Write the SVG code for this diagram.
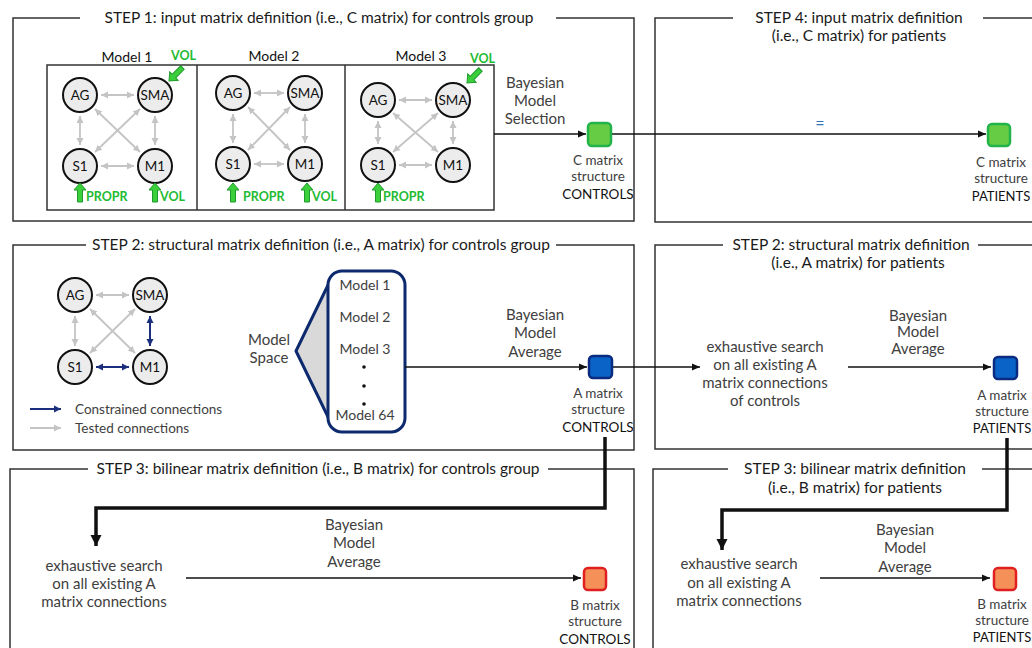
<svg xmlns="http://www.w3.org/2000/svg" width="1032" height="648" viewBox="0 0 1032 648">
<style>
text{font-family:Lato,"Liberation Sans",sans-serif}
.frame{fill:none;stroke:#333;stroke-width:1.5}
.title{font-size:15.5px;fill:#1a1a1a;text-anchor:middle}
.body{font-size:15px;fill:#404040;text-anchor:middle}
.small{font-size:13.5px;fill:#404040;text-anchor:middle}
.grp{font-size:13.5px;fill:#111;text-anchor:middle}
.node circle{fill:#ececec;stroke:#111;stroke-width:2}
.node text{font-size:13.5px;fill:#111;text-anchor:middle}
.gray{stroke:#c4c4c4;stroke-width:1.8;fill:none;marker-start:url(#ag);marker-end:url(#ag)}
.blue{stroke:#1c2f7e;stroke-width:2;fill:none;marker-start:url(#ab);marker-end:url(#ab)}
.thin{stroke:#111;stroke-width:1.5;fill:none;marker-end:url(#ak)}
.thick{stroke:#111;stroke-width:3.5;fill:none;marker-end:url(#akt)}
.garrow{fill:#3ccf3c;stroke:#1f9a2c;stroke-width:1}
.glab{font-size:12.5px;font-weight:bold;fill:#22bb33}
.mlab{font-size:14px;fill:#111;text-anchor:middle}
</style>
<defs>
<marker id="ag" markerUnits="userSpaceOnUse" markerWidth="8" markerHeight="8" refX="7" refY="4" orient="auto-start-reverse"><path d="M0,0.5 L7,4 L0,7.5 Z" fill="#c4c4c4"/></marker>
<marker id="ab" markerUnits="userSpaceOnUse" markerWidth="8" markerHeight="8" refX="7" refY="4" orient="auto-start-reverse"><path d="M0,0.5 L7,4 L0,7.5 Z" fill="#1c2f7e"/></marker>
<marker id="ak" markerUnits="userSpaceOnUse" markerWidth="9" markerHeight="8" refX="8" refY="4" orient="auto"><path d="M0,0.5 L8,4 L0,7.5 Z" fill="#111"/></marker>
<marker id="akt" markerUnits="userSpaceOnUse" markerWidth="12" markerHeight="12" refX="11" refY="6" orient="auto"><path d="M0,0.5 L11,6 L0,11.5 Z" fill="#111"/></marker>
<path id="upArrow" d="M0,0 L6,7 L2.5,7 L2.5,19 L-2.5,19 L-2.5,7 L-6,7 Z"/>
</defs>

<!-- Frames -->
<g id="frames">
<path class="frame" d="M80,18 H13 V221 H634 V18 H556"/>
<path class="frame" d="M733,18 H655 V222 H1040 M983,18 H1040"/>
<path class="frame" d="M86,245 H13 V450 H634 V245 H556"/>
<path class="frame" d="M723,245 H655 V449 H1040 M978,245 H1040"/>
<path class="frame" d="M88,469 H10 V660 M548,469 H634 V660"/>
<path class="frame" d="M728,469 H653 V660 M982,469 H1040"/>
</g>

<g id="titles">
<text class="title" x="319" y="23">STEP 1: input matrix definition (i.e., C matrix) for controls group</text>
<text class="title" x="859" y="23">STEP 4: input matrix definition</text>
<text class="title" x="859" y="41">(i.e., C matrix) for patients</text>
<text class="title" x="321" y="250">STEP 2: structural matrix definition (i.e., A matrix) for controls group</text>
<text class="title" x="851" y="250">STEP 2: structural matrix definition</text>
<text class="title" x="858" y="268">(i.e., A matrix) for patients</text>
<text class="title" x="318" y="474">STEP 3: bilinear matrix definition (i.e., B matrix) for controls group</text>
<text class="title" x="855" y="474">STEP 3: bilinear matrix definition</text>
<text class="title" x="855" y="493">(i.e., B matrix) for patients</text>
</g>

<!-- Model box -->
<g id="model-box">
<rect x="47" y="65" width="447" height="145" fill="none" stroke="#333" stroke-width="1.5"/>
<line x1="197" y1="65" x2="197" y2="210" stroke="#333" stroke-width="1.5"/>
<line x1="345" y1="65" x2="345" y2="210" stroke="#333" stroke-width="1.5"/>
<text class="mlab" x="127" y="62">Model 1</text>
<text class="mlab" x="274" y="61">Model 2</text>
<text class="mlab" x="421" y="61">Model 3</text>
</g>

<!-- Model 1 graph -->
<g id="model1" transform="translate(80,95)">
<g class="edges">
<line class="gray" x1="21" y1="0" x2="54" y2="0"/>
<line class="gray" x1="21" y1="71" x2="54" y2="71"/>
<line class="gray" x1="0" y1="21" x2="0" y2="50"/>
<line class="gray" x1="75" y1="21" x2="75" y2="50"/>
<line class="gray" x1="15" y1="14" x2="60" y2="57"/>
<line class="gray" x1="60" y1="14" x2="15" y2="57"/>
</g>
<g id="m1-AG" class="node"><circle cx="0" cy="0" r="17"/><text x="0" y="5">AG</text></g>
<g id="m1-SMA" class="node"><circle cx="75" cy="0" r="17"/><text x="75" y="5">SMA</text></g>
<g id="m1-S1" class="node"><circle cx="0" cy="71" r="17"/><text x="0" y="76">S1</text></g>
<g id="m1-M1" class="node"><circle cx="75" cy="71" r="17"/><text x="75" y="76">M1</text></g>
</g>

<!-- Model 2 graph -->
<g id="model2" transform="translate(233,93)">
<g class="edges">
<line class="gray" x1="21" y1="0" x2="51" y2="0"/>
<line class="gray" x1="21" y1="71" x2="51" y2="71"/>
<line class="gray" x1="0" y1="21" x2="0" y2="50"/>
<line class="gray" x1="72" y1="21" x2="72" y2="50"/>
<line class="gray" x1="15" y1="14" x2="57" y2="57"/>
<line class="gray" x1="57" y1="14" x2="15" y2="57"/>
</g>
<g id="m2-AG" class="node"><circle cx="0" cy="0" r="17"/><text x="0" y="5">AG</text></g>
<g id="m2-SMA" class="node"><circle cx="72" cy="0" r="17"/><text x="72" y="5">SMA</text></g>
<g id="m2-S1" class="node"><circle cx="0" cy="71" r="17"/><text x="0" y="76">S1</text></g>
<g id="m2-M1" class="node"><circle cx="72" cy="71" r="17"/><text x="72" y="76">M1</text></g>
</g>

<!-- Model 3 graph -->
<g id="model3" transform="translate(378,100)">
<g class="edges">
<line class="gray" x1="21" y1="0" x2="54" y2="0"/>
<line class="gray" x1="21" y1="65" x2="54" y2="65"/>
<line class="gray" x1="0" y1="21" x2="0" y2="44"/>
<line class="gray" x1="75" y1="21" x2="75" y2="44"/>
<line class="gray" x1="15" y1="13" x2="60" y2="52"/>
<line class="gray" x1="60" y1="13" x2="15" y2="52"/>
</g>
<g id="m3-AG" class="node"><circle cx="0" cy="0" r="17"/><text x="0" y="5">AG</text></g>
<g id="m3-SMA" class="node"><circle cx="75" cy="0" r="17"/><text x="75" y="5">SMA</text></g>
<g id="m3-S1" class="node"><circle cx="0" cy="65" r="17"/><text x="0" y="70">S1</text></g>
<g id="m3-M1" class="node"><circle cx="75" cy="65" r="17"/><text x="75" y="70">M1</text></g>
</g>

<!-- Inputs (green arrows) -->
<g id="inputs">
<use href="#upArrow" class="garrow" transform="translate(80,183)"/>
<text class="glab" x="86" y="201">PROPR</text>
<use href="#upArrow" class="garrow" transform="translate(155,183)"/>
<text class="glab" x="160" y="201">VOL</text>
<use href="#upArrow" class="garrow" transform="translate(169,81) rotate(-135)"/>
<text class="glab" x="171" y="60">VOL</text>
<use href="#upArrow" class="garrow" transform="translate(233,183)"/>
<text class="glab" x="243" y="201">PROPR</text>
<use href="#upArrow" class="garrow" transform="translate(307,183)"/>
<text class="glab" x="312" y="201">VOL</text>
<use href="#upArrow" class="garrow" transform="translate(467,83) rotate(-135)"/>
<text class="glab" x="470" y="63">VOL</text>
<use href="#upArrow" class="garrow" transform="translate(378,183)"/>
<text class="glab" x="383" y="201">PROPR</text>
</g>

<!-- Step 2 graph -->
<g id="step2graph" transform="translate(75,295)">
<g class="edges">
<line class="gray" x1="21" y1="0" x2="54" y2="0"/>
<line class="blue" x1="21" y1="72" x2="54" y2="72"/>
<line class="gray" x1="0" y1="21" x2="0" y2="51"/>
<line class="blue" x1="75" y1="21" x2="75" y2="51"/>
<line class="gray" x1="15" y1="14" x2="60" y2="58"/>
<line class="gray" x1="60" y1="14" x2="15" y2="58"/>
</g>
<g id="s2-AG" class="node"><circle cx="0" cy="0" r="17"/><text x="0" y="5">AG</text></g>
<g id="s2-SMA" class="node"><circle cx="75" cy="0" r="17"/><text x="75" y="5">SMA</text></g>
<g id="s2-S1" class="node"><circle cx="0" cy="72" r="17"/><text x="0" y="77">S1</text></g>
<g id="s2-M1" class="node"><circle cx="75" cy="72" r="17"/><text x="75" y="77">M1</text></g>
</g>

<g id="legend">
<line x1="30" y1="409" x2="61" y2="409" stroke="#1c2f7e" stroke-width="2" marker-end="url(#ab)"/>
<text x="75" y="414" style="font-size:13.5px;fill:#404040">Constrained connections</text>
<line x1="30" y1="428" x2="61" y2="428" stroke="#c4c4c4" stroke-width="2" marker-end="url(#ag)"/>
<text x="75" y="433" style="font-size:13.5px;fill:#404040">Tested connections</text>
</g>

<!-- Model space -->
<g id="model-space">
<polygon points="296,351 330,281 330,421" fill="#d9d9d9" stroke="#0d2a6e" stroke-width="3" stroke-linejoin="round"/>
<rect x="328" y="271" width="77" height="161" rx="14" fill="#fff" stroke="#0d2a6e" stroke-width="3"/>
<text class="body" x="269" y="345">Model</text>
<text class="body" x="269" y="363">Space</text>
<text class="small" x="365" y="290" style="font-size:14px">Model 1</text>
<text class="small" x="365" y="322" style="font-size:14px">Model 2</text>
<text class="small" x="365" y="354" style="font-size:14px">Model 3</text>
<circle cx="364" cy="367" r="1.8" fill="#111"/>
<circle cx="364" cy="386" r="1.8" fill="#111"/>
<circle cx="364" cy="404" r="1.8" fill="#111"/>
<text class="small" x="365" y="420" style="font-size:14px">Model 64</text>
</g>

<!-- Connectors -->
<g id="connectors">
<line class="thin" x1="494" y1="134" x2="586" y2="134"/>
<line class="thin" x1="611" y1="134" x2="986" y2="134"/>
<line class="thin" x1="405" y1="367" x2="587" y2="367"/>
<line class="thin" x1="612" y1="367" x2="700" y2="367"/>
<line class="thin" x1="848" y1="367" x2="991" y2="367"/>
<line class="thin" x1="186" y1="578" x2="581" y2="578"/>
<line class="thin" x1="820" y1="578" x2="990" y2="578"/>
<path class="thick" d="M605,437 V508 H96 V546"/>
<path class="thick" d="M1007,438 V510 H722 V550"/>
</g>

<!-- Step 1 texts -->
<g id="bms">
<text class="body" x="535" y="88">Bayesian</text>
<text class="body" x="535" y="106">Model</text>
<text class="body" x="535" y="124">Selection</text>
</g>
<text x="820" y="129" style="font-size:16px;fill:#2e75b6;text-anchor:middle">=</text>

<g id="c-controls">
<rect x="588" y="123" width="23" height="23" rx="4" fill="#66cc44" stroke="#22b34a" stroke-width="2.5"/>
<text class="small" x="598" y="165">C matrix</text>
<text class="small" x="598" y="181">structure</text>
<text class="grp" x="598" y="199">CONTROLS</text>
</g>
<g id="c-patients">
<rect x="988" y="124" width="22" height="22" rx="4" fill="#66cc44" stroke="#22b34a" stroke-width="2.5"/>
<text class="small" x="1001" y="167">C matrix</text>
<text class="small" x="1001" y="183">structure</text>
<text class="grp" x="1001" y="201" style="font-size:13px">PATIENTS</text>
</g>

<g id="bma-a-controls">
<text class="body" x="535" y="320">Bayesian</text>
<text class="body" x="535" y="338">Model</text>
<text class="body" x="535" y="357">Average</text>
</g>
<g id="a-controls">
<rect x="589" y="356" width="23" height="22" rx="4" fill="#0a64c8" stroke="#0b2a80" stroke-width="2.5"/>
<text class="small" x="598" y="398">A matrix</text>
<text class="small" x="598" y="414">structure</text>
<text class="grp" x="598" y="432">CONTROLS</text>
</g>

<g id="search-a-patients">
<text class="body" x="765" y="352">exhaustive search</text>
<text class="body" x="765" y="370">on all existing A</text>
<text class="body" x="765" y="388">matrix connections</text>
<text class="body" x="765" y="406">of controls</text>
</g>
<g id="bma-a-patients">
<text class="body" x="918" y="321">Bayesian</text>
<text class="body" x="918" y="337">Model</text>
<text class="body" x="918" y="354">Average</text>
</g>
<g id="a-patients">
<rect x="994" y="357" width="23" height="22" rx="4" fill="#0a64c8" stroke="#0b2a80" stroke-width="2.5"/>
<text class="small" x="1002" y="400">A matrix</text>
<text class="small" x="1002" y="416">structure</text>
<text class="grp" x="1002" y="433" style="font-size:13px">PATIENTS</text>
</g>

<g id="search-b-controls">
<text class="body" x="104" y="571">exhaustive search</text>
<text class="body" x="104" y="589">on all existing A</text>
<text class="body" x="104" y="607">matrix connections</text>
</g>
<g id="bma-b-controls">
<text class="body" x="354" y="530">Bayesian</text>
<text class="body" x="354" y="548">Model</text>
<text class="body" x="354" y="567">Average</text>
</g>
<g id="b-controls">
<rect x="584" y="568" width="22" height="22" rx="4" fill="#f59058" stroke="#e02020" stroke-width="2.5"/>
<text class="small" x="595" y="610">B matrix</text>
<text class="small" x="595" y="626">structure</text>
<text class="grp" x="595" y="644">CONTROLS</text>
</g>

<g id="search-b-patients">
<text class="body" x="739" y="569">exhaustive search</text>
<text class="body" x="739" y="588">on all existing A</text>
<text class="body" x="739" y="606">matrix connections</text>
</g>
<g id="bma-b-patients">
<text class="body" x="905" y="535">Bayesian</text>
<text class="body" x="905" y="553">Model</text>
<text class="body" x="905" y="572">Average</text>
</g>
<g id="b-patients">
<rect x="994" y="568" width="22" height="22" rx="4" fill="#f59058" stroke="#e02020" stroke-width="2.5"/>
<text class="small" x="1002" y="609">B matrix</text>
<text class="small" x="1002" y="625">structure</text>
<text class="grp" x="1002" y="642" style="font-size:13px">PATIENTS</text>
</g>
</svg>
